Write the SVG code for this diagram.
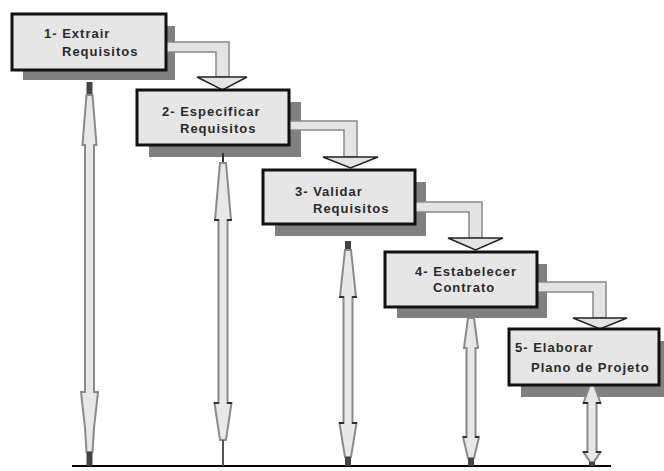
<svg xmlns="http://www.w3.org/2000/svg" width="664" height="471" viewBox="0 0 664 471">
<defs>
<style>
.shadow{fill:#808080}
.box{fill:#e6e6e6;stroke:#111;stroke-width:3}
.lbl{font-family:"Liberation Sans",Arial,sans-serif;font-size:13px;font-weight:bold;fill:#2a2a2a;letter-spacing:1px}
.bend{fill:#e4e4e4;stroke:#888;stroke-width:1.5;stroke-linejoin:miter}
.head{fill:#e4e4e4;stroke:#222;stroke-width:1.5;stroke-linejoin:miter}
.vbody{fill:#e8e8e8;stroke:#8a8a8a;stroke-width:2;stroke-linejoin:miter}
.dark{fill:#444}
.tick{stroke:#111;stroke-width:1.5}
</style>
</defs>
<rect width="664" height="471" fill="#fff"/>
<g id="shadows">
<rect class="shadow" x="23" y="26" width="152" height="54"/>
<rect class="shadow" x="149" y="102" width="152" height="55"/>
<rect class="shadow" x="275" y="182" width="151" height="54"/>
<rect class="shadow" x="397" y="264" width="150" height="54"/>
<rect class="shadow" x="521" y="341" width="143" height="56"/>
</g>
<g id="connectors">
<line x1="72" y1="466" x2="611" y2="466" stroke="#000" stroke-width="2"/>
<!-- vertical connector 1 -->
<rect class="dark" x="86.5" y="82" width="6" height="13"/>
<polygon class="vbody" points="86.5,95 92.5,95 96.5,145 94,145 94,392 98,392 94,428 92.5,452 86.5,452 85,428 81,392 85,392 85,145 82.5,145"/>
<rect class="dark" x="86.5" y="452" width="6" height="14"/>
<!-- vertical connector 2 -->
<line x1="223" y1="153" x2="223" y2="163" stroke="#333" stroke-width="2"/>
<polygon class="vbody" points="220,163 226,163 231,220 227.5,220 227.5,403 231.5,403 226,440 220,440 214.5,403 218.5,403 218.5,220 215,220"/>
<line x1="223" y1="440" x2="223" y2="466" stroke="#555" stroke-width="2"/>
<line class="tick" x1="214" y1="220" x2="219" y2="220"/><line class="tick" x1="227" y1="220" x2="232" y2="220"/>
<line class="tick" x1="214" y1="403" x2="219" y2="403"/><line class="tick" x1="227" y1="403" x2="232" y2="403"/>
<!-- vertical connector 3 -->
<rect class="dark" x="345" y="241" width="6" height="9"/>
<polygon class="vbody" points="345,250 351,250 356,297 352.5,297 352.5,423 356.5,423 351,457 345,457 339.5,423 343.5,423 343.5,297 340,297"/>
<rect class="dark" x="345" y="457" width="6" height="9"/>
<line class="tick" x1="339" y1="297" x2="344" y2="297"/><line class="tick" x1="352" y1="297" x2="357" y2="297"/>
<line class="tick" x1="339" y1="423" x2="344" y2="423"/><line class="tick" x1="352" y1="423" x2="357" y2="423"/>
<!-- vertical connector 4 -->
<polygon class="vbody" points="468,318 474,318 478,348 475.5,348 475.5,437 479,437 474,458 468,458 463,437 466.5,437 466.5,348 464,348"/>
<rect class="dark" x="468" y="458" width="6" height="8"/>
<line class="tick" x1="463" y1="437" x2="467" y2="437"/><line class="tick" x1="475" y1="437" x2="479" y2="437"/>
<!-- vertical connector 5 -->
<polygon class="vbody" points="590,385 594,385 600.5,403 596.5,403 596.5,452 600.5,452 594,462 590,462 583.5,452 587.5,452 587.5,403 583.5,403"/>
<rect class="dark" x="589" y="462" width="6" height="4"/>
<line class="tick" x1="583" y1="403" x2="588" y2="403"/><line class="tick" x1="596" y1="403" x2="601" y2="403"/>
<line class="tick" x1="583" y1="452" x2="588" y2="452"/><line class="tick" x1="596" y1="452" x2="601" y2="452"/>
<!-- bent arrows -->
<polygon class="bend" points="166,42 229,42 229,77 216,77 216,52 166,52"/>
<polygon class="head" points="197,77 247,77 222.5,90"/>
<polygon class="bend" points="289,121 357,121 357,157 344,157 344,130 289,130"/>
<polygon class="head" points="323,157 378,157 350.5,168"/>
<polygon class="bend" points="415,202 482,202 482,238 469,238 469,212 415,212"/>
<polygon class="head" points="448,238 503,238 475.5,250"/>
<polygon class="bend" points="537,282 606,282 606,318 593,318 593,292 537,292"/>
<polygon class="head" points="573,318 627,318 600,329"/>
</g>
<g id="node1">
<rect class="box" x="12" y="14" width="154" height="56"/>
<text class="lbl" x="44" y="38">1- Extrair</text>
<text class="lbl" x="62" y="56">Requisitos</text>
</g>
<g id="node2">
<rect class="box" x="137" y="90" width="152" height="55"/>
<text class="lbl" x="162" y="116">2- Especificar</text>
<text class="lbl" x="180" y="133">Requisitos</text>
</g>
<g id="node3">
<rect class="box" x="263" y="170" width="152" height="54"/>
<text class="lbl" x="295" y="196">3- Validar</text>
<text class="lbl" x="313" y="213">Requisitos</text>
</g>
<g id="node4">
<rect class="box" x="385" y="252" width="152" height="55"/>
<text class="lbl" x="415" y="276">4- Estabelecer</text>
<text class="lbl" x="433" y="292">Contrato</text>
</g>
<g id="node5">
<rect class="box" x="509" y="329" width="150" height="56"/>
<text class="lbl" x="515" y="352">5- Elaborar</text>
<text class="lbl" x="531" y="372">Plano de Projeto</text>
</g>
</svg>
